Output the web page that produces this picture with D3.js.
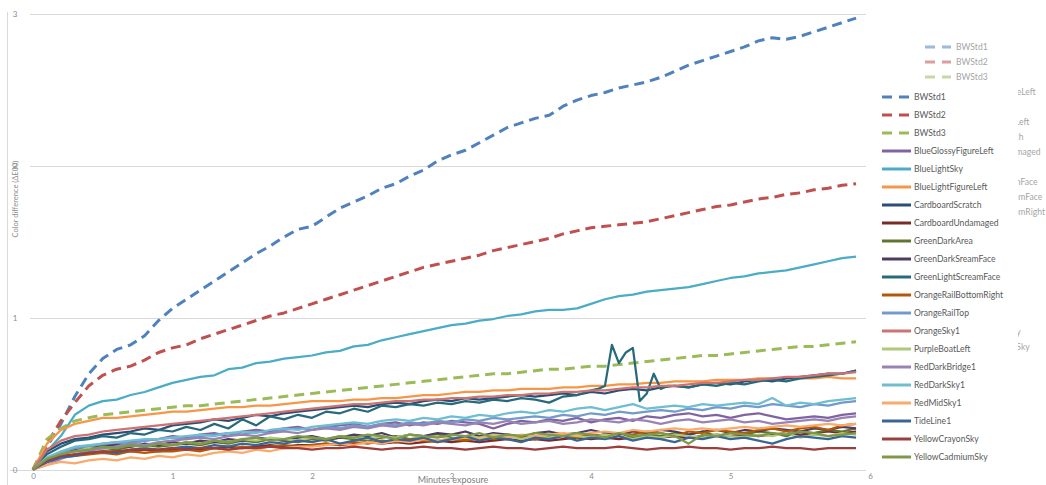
<!DOCTYPE html>
<html>
<head>
<meta charset="utf-8">
<script src="https://cdn.jsdelivr.net/npm/d3@7"></script>
<style>
  body { margin: 0; background: #ffffff; }
  svg { display: block; }
  text { font-family: Lato, "Open Sans", "DejaVu Sans", sans-serif; }
</style>
</head>
<body>
<svg id="chart" width="1046" height="485"></svg>
<script>
// Sampling times (minutes of exposure)
const minutes = [0,0.1,0.2,0.3,0.4,0.5,0.6,0.7,0.8,0.9,1,1.1,1.2,1.3,1.4,1.5,1.6,1.7,1.8,1.9,
  2,2.1,2.2,2.3,2.4,2.5,2.6,2.7,2.8,2.9,3,3.1,3.2,3.3,3.4,3.5,3.6,3.7,3.8,3.9,
  4,4.1,4.2,4.3,4.4,4.5,4.6,4.7,4.8,4.9,5,5.1,5.2,5.3,5.4,5.5,5.6,5.7,5.8,5.9];
// GreenLightScreamFace was logged more often around its glitch
const screamFaceMinutes = [0,0.1,0.2,0.3,0.4,0.5,0.6,0.7,0.8,0.9,1,1.1,1.2,1.3,1.4,1.5,1.6,1.7,1.8,1.9,
  2,2.1,2.2,2.3,2.4,2.5,2.6,2.7,2.8,2.9,3,3.1,3.2,3.3,3.4,3.5,3.6,3.7,3.8,3.9,
  4,4.05,4.1,4.15,4.2,4.25,4.3,4.35,4.4,4.45,4.5,4.55,4.6,4.7,4.8,4.9,5,5.1,5.2,5.3,5.4,5.5,5.6,5.7,5.8,5.9];

// Colour difference (ΔE00) per sample
const bwStd1 = [0,0.15,0.3,0.48,0.63,0.73,0.79,0.82,0.88,0.98,1.06,1.12,1.18,1.24,1.3,1.36,1.42,1.47,1.53,1.58,
  1.6,1.66,1.72,1.76,1.8,1.85,1.88,1.93,1.97,2.03,2.07,2.1,2.15,2.2,2.25,2.28,2.31,2.33,2.39,2.43,
  2.46,2.48,2.51,2.53,2.55,2.58,2.62,2.66,2.69,2.72,2.75,2.78,2.82,2.84,2.83,2.85,2.88,2.91,2.94,2.97];
const bwStd2 = [0,0.17,0.32,0.44,0.55,0.62,0.66,0.68,0.72,0.77,0.8,0.82,0.86,0.89,0.92,0.95,0.98,1.01,1.03,1.06,
  1.09,1.12,1.15,1.18,1.21,1.24,1.27,1.3,1.33,1.35,1.37,1.39,1.41,1.44,1.46,1.48,1.5,1.52,1.55,1.57,
  1.59,1.6,1.61,1.62,1.63,1.65,1.67,1.69,1.71,1.73,1.74,1.76,1.78,1.79,1.81,1.82,1.84,1.85,1.87,1.88];
const bwStd3 = [0,0.2,0.27,0.32,0.34,0.36,0.37,0.38,0.39,0.4,0.41,0.42,0.42,0.43,0.44,0.45,0.46,0.47,0.48,0.49,
  0.5,0.51,0.52,0.53,0.54,0.55,0.56,0.57,0.58,0.59,0.6,0.61,0.62,0.63,0.63,0.64,0.65,0.66,0.66,0.67,
  0.68,0.68,0.69,0.7,0.71,0.72,0.73,0.74,0.75,0.75,0.76,0.77,0.78,0.79,0.8,0.81,0.81,0.82,0.83,0.84];
const blueGlossyFigureLeft = [0,0.06,0.1,0.13,0.14,0.16,0.17,0.18,0.19,0.2,0.22,0.21,0.23,0.24,0.22,0.25,0.26,0.25,0.27,0.28,
  0.26,0.28,0.29,0.3,0.28,0.3,0.31,0.29,0.31,0.3,0.32,0.31,0.3,0.27,0.3,0.32,0.31,0.33,0.32,0.34,
  0.31,0.33,0.34,0.32,0.35,0.34,0.36,0.37,0.35,0.36,0.34,0.36,0.37,0.35,0.33,0.34,0.35,0.34,0.36,0.37];
const blueLightSky = [0,0.12,0.22,0.36,0.42,0.45,0.46,0.49,0.51,0.54,0.57,0.59,0.61,0.62,0.66,0.67,0.7,0.71,0.73,0.74,
  0.75,0.77,0.78,0.81,0.82,0.85,0.87,0.89,0.91,0.93,0.95,0.96,0.98,0.99,1.01,1.02,1.04,1.05,1.05,1.06,
  1.09,1.12,1.14,1.15,1.17,1.18,1.19,1.2,1.22,1.24,1.26,1.27,1.29,1.3,1.31,1.33,1.35,1.37,1.39,1.4];
const blueLightFigureLeft = [0,0.17,0.26,0.3,0.32,0.34,0.34,0.35,0.36,0.37,0.38,0.38,0.39,0.4,0.41,0.41,0.42,0.42,0.43,0.44,
  0.45,0.45,0.45,0.46,0.46,0.47,0.47,0.48,0.49,0.49,0.5,0.51,0.51,0.52,0.52,0.53,0.53,0.53,0.54,0.54,
  0.55,0.55,0.56,0.56,0.57,0.57,0.58,0.58,0.58,0.59,0.59,0.59,0.6,0.6,0.6,0.6,0.6,0.61,0.6,0.6];
const cardboardScratch = [0,0.12,0.17,0.2,0.21,0.23,0.24,0.25,0.27,0.26,0.29,0.3,0.31,0.33,0.32,0.34,0.36,0.35,0.37,0.38,
  0.39,0.4,0.41,0.42,0.41,0.43,0.44,0.43,0.45,0.46,0.45,0.47,0.46,0.47,0.48,0.49,0.48,0.49,0.5,0.49,
  0.51,0.5,0.52,0.53,0.52,0.54,0.55,0.54,0.56,0.57,0.56,0.58,0.59,0.58,0.6,0.61,0.62,0.63,0.63,0.65];
const cardboardUndamaged = [0,0.05,0.08,0.1,0.11,0.11,0.12,0.12,0.13,0.12,0.13,0.14,0.13,0.14,0.15,0.14,0.15,0.16,0.15,0.16,
  0.16,0.17,0.16,0.17,0.18,0.17,0.18,0.17,0.18,0.19,0.18,0.19,0.18,0.19,0.2,0.19,0.2,0.19,0.2,0.21,
  0.2,0.21,0.2,0.21,0.22,0.21,0.22,0.21,0.22,0.23,0.22,0.23,0.22,0.23,0.24,0.23,0.24,0.25,0.24,0.25];
const greenDarkArea = [0,0.06,0.1,0.12,0.13,0.14,0.13,0.15,0.16,0.15,0.16,0.17,0.16,0.18,0.17,0.19,0.18,0.2,0.19,0.18,
  0.2,0.19,0.21,0.2,0.19,0.21,0.22,0.2,0.21,0.23,0.21,0.2,0.22,0.21,0.23,0.22,0.2,0.22,0.23,0.21,
  0.23,0.22,0.24,0.21,0.23,0.22,0.24,0.23,0.25,0.22,0.24,0.23,0.25,0.24,0.22,0.25,0.24,0.26,0.25,0.27];
const greenDarkSreamFace = [0,0.07,0.11,0.13,0.14,0.15,0.16,0.15,0.17,0.16,0.18,0.17,0.19,0.18,0.2,0.19,0.21,0.2,0.19,0.21,
  0.22,0.2,0.21,0.23,0.22,0.24,0.21,0.23,0.22,0.24,0.23,0.25,0.22,0.24,0.23,0.21,0.24,0.25,0.23,0.24,
  0.26,0.24,0.23,0.25,0.24,0.26,0.25,0.23,0.25,0.26,0.24,0.26,0.25,0.27,0.26,0.25,0.27,0.26,0.28,0.27];
const greenLightScreamFace = [0,0.1,0.15,0.19,0.2,0.22,0.21,0.24,0.23,0.26,0.25,0.28,0.26,0.3,0.27,0.33,0.29,0.35,0.33,0.36,
  0.34,0.38,0.37,0.4,0.38,0.42,0.41,0.43,0.42,0.44,0.43,0.45,0.44,0.46,0.45,0.47,0.46,0.44,0.48,0.49,
  0.52,0.53,0.55,0.82,0.7,0.77,0.8,0.45,0.5,0.63,0.53,0.55,0.55,0.54,0.56,0.55,0.57,0.56,0.58,0.59,0.58,0.6,0.61,0.62,0.63,0.65];
const orangeRailBottomRight = [0,0.05,0.08,0.09,0.1,0.11,0.1,0.12,0.11,0.12,0.12,0.13,0.12,0.14,0.13,0.15,0.14,0.15,0.16,0.15,
  0.16,0.17,0.16,0.18,0.17,0.19,0.18,0.2,0.19,0.18,0.2,0.19,0.21,0.2,0.22,0.21,0.2,0.22,0.23,0.21,
  0.23,0.22,0.24,0.23,0.25,0.24,0.22,0.25,0.24,0.26,0.25,0.24,0.26,0.27,0.25,0.27,0.28,0.26,0.29,0.3];
const orangeRailTop = [0,0.07,0.11,0.14,0.15,0.17,0.18,0.17,0.19,0.2,0.21,0.2,0.22,0.23,0.24,0.23,0.25,0.24,0.26,0.27,
  0.26,0.28,0.27,0.29,0.28,0.3,0.29,0.31,0.3,0.32,0.31,0.33,0.32,0.34,0.33,0.34,0.35,0.34,0.36,0.35,
  0.37,0.36,0.38,0.37,0.38,0.39,0.38,0.4,0.39,0.41,0.4,0.42,0.41,0.43,0.42,0.41,0.43,0.42,0.44,0.45];
const orangeSky1 = [0,0.13,0.19,0.22,0.23,0.25,0.26,0.27,0.28,0.29,0.3,0.31,0.32,0.33,0.34,0.35,0.36,0.37,0.38,0.39,
  0.4,0.41,0.42,0.43,0.43,0.44,0.45,0.45,0.46,0.46,0.47,0.47,0.48,0.48,0.49,0.49,0.5,0.5,0.51,0.51,
  0.52,0.52,0.53,0.54,0.54,0.55,0.55,0.56,0.57,0.57,0.58,0.59,0.59,0.6,0.61,0.61,0.62,0.63,0.63,0.64];
const purpleBoatLeft = [0,0.07,0.1,0.12,0.14,0.13,0.15,0.16,0.15,0.17,0.16,0.18,0.17,0.19,0.18,0.2,0.19,0.21,0.2,0.19,
  0.21,0.2,0.22,0.21,0.2,0.22,0.21,0.23,0.21,0.22,0.2,0.22,0.21,0.23,0.22,0.2,0.22,0.21,0.23,0.22,
  0.21,0.23,0.22,0.2,0.22,0.21,0.23,0.22,0.21,0.23,0.22,0.21,0.23,0.22,0.24,0.21,0.23,0.22,0.24,0.23];
const redDarkBridge1 = [0,0.03,0.07,0.1,0.12,0.14,0.15,0.17,0.16,0.18,0.19,0.2,0.21,0.2,0.22,0.23,0.22,0.24,0.25,0.24,
  0.26,0.27,0.26,0.28,0.27,0.29,0.28,0.3,0.29,0.31,0.3,0.29,0.31,0.3,0.32,0.3,0.31,0.32,0.3,0.31,
  0.33,0.32,0.31,0.33,0.32,0.3,0.32,0.33,0.31,0.32,0.33,0.31,0.32,0.3,0.31,0.32,0.33,0.32,0.34,0.35];
const redDarkSky1 = [0,0.08,0.12,0.15,0.16,0.17,0.18,0.19,0.2,0.2,0.21,0.22,0.23,0.22,0.24,0.25,0.24,0.26,0.27,0.26,
  0.28,0.29,0.3,0.31,0.3,0.32,0.33,0.32,0.34,0.33,0.35,0.34,0.36,0.35,0.37,0.38,0.37,0.39,0.38,0.4,
  0.41,0.39,0.41,0.43,0.4,0.41,0.42,0.41,0.43,0.42,0.43,0.44,0.43,0.47,0.42,0.44,0.43,0.45,0.46,0.47];
const redMidSky1 = [0,0.03,0.05,0.04,0.06,0.07,0.06,0.08,0.07,0.09,0.08,0.1,0.09,0.11,0.12,0.11,0.13,0.12,0.14,0.15,
  0.15,0.16,0.17,0.16,0.18,0.17,0.19,0.18,0.2,0.19,0.2,0.21,0.2,0.22,0.21,0.23,0.22,0.23,0.24,0.23,
  0.24,0.25,0.24,0.26,0.25,0.26,0.27,0.26,0.27,0.26,0.27,0.28,0.27,0.28,0.29,0.28,0.29,0.3,0.29,0.3];
const tideLine1 = [0,0.05,0.08,0.09,0.11,0.12,0.11,0.13,0.14,0.13,0.14,0.15,0.14,0.16,0.15,0.17,0.16,0.18,0.17,0.19,
  0.18,0.2,0.17,0.19,0.21,0.18,0.2,0.19,0.21,0.18,0.2,0.22,0.19,0.21,0.2,0.18,0.21,0.2,0.22,0.19,
  0.21,0.2,0.22,0.19,0.21,0.2,0.18,0.21,0.2,0.22,0.2,0.21,0.19,0.17,0.2,0.22,0.21,0.2,0.22,0.21];
const yellowCrayonSky = [0,0.06,0.09,0.1,0.11,0.12,0.12,0.13,0.13,0.13,0.14,0.13,0.14,0.14,0.13,0.14,0.14,0.15,0.14,0.14,
  0.13,0.14,0.14,0.15,0.14,0.13,0.14,0.14,0.15,0.14,0.14,0.13,0.14,0.15,0.14,0.14,0.13,0.14,0.15,0.14,
  0.14,0.14,0.15,0.14,0.13,0.14,0.14,0.15,0.14,0.14,0.13,0.14,0.14,0.15,0.14,0.14,0.13,0.14,0.14,0.14];
const yellowCadmiumSky = [0,0.07,0.1,0.12,0.13,0.15,0.14,0.16,0.15,0.17,0.16,0.18,0.17,0.19,0.18,0.2,0.21,0.19,0.2,0.22,
  0.21,0.2,0.22,0.21,0.23,0.22,0.2,0.23,0.22,0.21,0.23,0.22,0.24,0.21,0.23,0.22,0.24,0.23,0.22,0.24,
  0.23,0.21,0.24,0.22,0.23,0.24,0.22,0.17,0.23,0.22,0.24,0.23,0.22,0.24,0.23,0.25,0.24,0.22,0.23,0.24];

const seriesNames = ["BWStd1","BWStd2","BWStd3","BlueGlossyFigureLeft","BlueLightSky","BlueLightFigureLeft",
  "CardboardScratch","CardboardUndamaged","GreenDarkArea","GreenDarkSreamFace","GreenLightScreamFace",
  "OrangeRailBottomRight","OrangeRailTop","OrangeSky1","PurpleBoatLeft","RedDarkBridge1","RedDarkSky1",
  "RedMidSky1","TideLine1","YellowCrayonSky","YellowCadmiumSky"];
const seriesValues = [bwStd1,bwStd2,bwStd3,blueGlossyFigureLeft,blueLightSky,blueLightFigureLeft,
  cardboardScratch,cardboardUndamaged,greenDarkArea,greenDarkSreamFace,greenLightScreamFace,
  orangeRailBottomRight,orangeRailTop,orangeSky1,purpleBoatLeft,redDarkBridge1,redDarkSky1,
  redMidSky1,tideLine1,yellowCrayonSky,yellowCadmiumSky];
const seriesColors = ["#4F81BD","#C0504D","#9BBB59","#8064A2","#4BACC6","#F79646",
  "#2C4D75","#772C2A","#5F7530","#4D3B62","#276A7C","#B65708","#729ACA","#CD7371",
  "#AFC97A","#9983B5","#6FBDD1","#F9AB6B","#3A6595","#9C3F3C","#7E9949"];
const dashedSeries = ["BWStd1","BWStd2","BWStd3"];

const xTicks = [0,1,2,3,4,5,6];
const yTicks = [0,1,2,3];
const xTitle = "Minutes exposure";
const yTitle = "Color difference (ΔE00)";

const svg = d3.select("#chart");
const x = d3.scaleLinear().domain([0, 6]).range([33, 870]);
const y = d3.scaleLinear().domain([0, 3]).range([469.5, 13.5]);

const series = seriesNames.map((name, i) => {
  const times = name === "GreenLightScreamFace" ? screamFaceMinutes : minutes;
  return {
    name,
    color: seriesColors[i],
    dashed: dashedSeries.includes(name),
    points: times.map((m, j) => [m, seriesValues[i][j]])
  };
});

// frame line on the left edge
svg.append("line").attr("x1", 7.5).attr("x2", 7.5).attr("y1", 12).attr("y2", 485)
  .attr("stroke", "#d9d9d9").attr("stroke-width", 1);

// horizontal gridlines
svg.append("g").selectAll("line").data(yTicks).join("line")
  .attr("x1", d => d === 0 ? 10 : 30).attr("x2", 866)
  .attr("y1", d => Math.round(y(d)) + 0.5).attr("y2", d => Math.round(y(d)) + 0.5)
  .attr("stroke", "#d9d9d9").attr("stroke-width", 1);

// axes (labels only)
const xAxis = svg.append("g").attr("transform", "translate(0,473)")
  .call(d3.axisBottom(x).tickValues(xTicks).tickSize(0).tickPadding(0).tickFormat(d3.format("d")));
const yAxis = svg.append("g").attr("transform", "translate(19,0)")
  .call(d3.axisLeft(y).tickValues(yTicks).tickSize(0).tickPadding(0).tickFormat(d3.format("d")));
[xAxis, yAxis].forEach(g => {
  g.select(".domain").remove();
  g.selectAll("text").attr("fill", "#8c8c8c").style("font-size", "8px")
    .style("font-family", "Lato, 'Open Sans', sans-serif");
});
yAxis.selectAll("text").attr("text-anchor", "middle").attr("dx", "-4");

// axis titles
svg.append("text").attr("x", 453).attr("y", 483).attr("text-anchor", "middle")
  .attr("fill", "#808080").style("font-size", "9px").text(xTitle);
svg.append("text").attr("transform", "translate(18,199) rotate(-90)").attr("text-anchor", "middle")
  .attr("fill", "#8c8c8c").style("font-size", "7.5px").text(yTitle);

// series lines
const line = d3.line().x(d => x(d[0])).y(d => y(d[1]));
svg.append("g").selectAll("path").data(series).join("path")
  .attr("d", d => line(d.points))
  .attr("fill", "none")
  .attr("stroke", d => d.color)
  .attr("stroke-width", d => d.dashed ? 3 : 2.25)
  .attr("stroke-dasharray", d => d.dashed ? "10,6" : null)
  .attr("stroke-linejoin", "round");

// legend drawing helper
function drawLegend(g, x0, y0, step, lineW, gap) {
  const rows = g.selectAll("g").data(series).join("g")
    .attr("transform", (d, i) => `translate(${x0},${y0 + i * step})`);
  rows.append("line").attr("x1", 0).attr("x2", lineW).attr("y1", 0).attr("y2", 0)
    .attr("stroke", d => d.color).attr("stroke-width", 3)
    .attr("stroke-dasharray", d => d.dashed ? "10,7" : null);
  rows.append("text").attr("x", lineW + gap).attr("y", 0).attr("dy", "0.35em")
    .attr("fill", "#595959").style("font-size", "8.6px").text(d => d.name);
}

// offset copy of the legend sitting behind the main one
const ghost = svg.append("g").attr("opacity", 0.55);
drawLegend(ghost, 925, 47, 15, 26, 5);

// main legend on an opaque panel
svg.append("rect").attr("x", 866).attr("y", 86).attr("width", 152).attr("height", 382).attr("fill", "#ffffff");
const legend = svg.append("g");
drawLegend(legend, 882, 97, 18, 29, 3);
</script>
</body>
</html>
